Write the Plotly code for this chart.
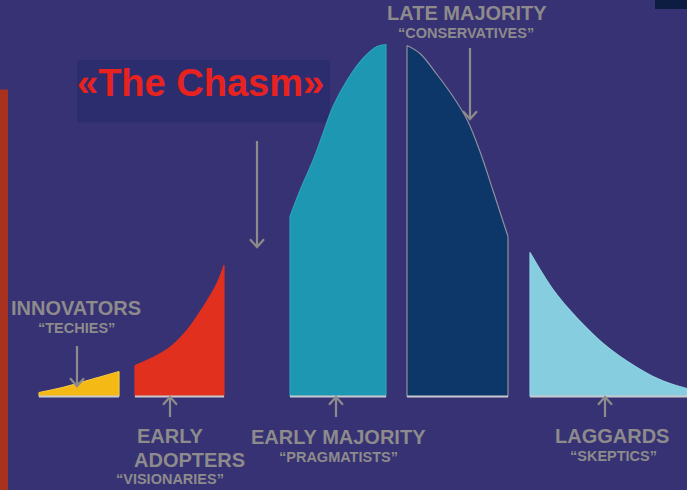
import plotly.graph_objects as go

# ---- data (x = position along the adoption timeline, h = curve height) ----
segments = ["Innovators", "Early Adopters", "Early Majority", "Late Majority", "Laggards"]
seg_colors = ["#f5b916", "#e2301f", "#1e97b3", "#0d3768", "#86cde0"]
seg_lines = ["#f5c840", "#e2301f", "#2ba2bd", "#8f8fa0", "#8fd3e4"]

innov_x = [39, 58, 77, 98, 119]
innov_h = [4, 8, 13, 19, 25]
early_ad_x = [135, 153, 170, 187, 203, 217, 224]
early_ad_h = [31, 39, 49, 66, 89, 113, 131]
early_maj_x = [290, 300, 313, 323, 333, 347, 363, 377, 386]
early_maj_h = [180, 206, 236, 263, 290, 316, 338, 350, 352]
late_maj_x = [407, 420, 437, 453, 467, 480, 493, 508]
late_maj_h = [351, 343, 322, 300, 277, 245, 206, 160]
lagg_x = [530, 540, 553, 570, 587, 603, 620, 637, 653, 670, 687]
lagg_h = [144, 127, 107, 86, 68, 53, 40, 29, 20, 13, 8]

seg_x = [innov_x, early_ad_x, early_maj_x, late_maj_x, lagg_x]
seg_h = [innov_h, early_ad_h, early_maj_h, late_maj_h, lagg_h]

BG = "#373273"
GRAY = "#8d8b8b"
FONT = "Liberation Sans, Arial, sans-serif"

fig = go.Figure()

for name, xs, hs, fc, lc in zip(segments, seg_x, seg_h, seg_colors, seg_lines):
    fig.add_trace(go.Scatter(
        x=xs, y=hs, mode="lines", fill="tozeroy", fillcolor=fc,
        line=dict(color=lc, width=1.2, shape="spline", smoothing=1.0),
        name=name, hoverinfo="name", showlegend=False))
    # straight edges of each segment
    fig.add_trace(go.Scatter(x=[xs[0], xs[0], None, xs[-1], xs[-1]],
                             y=[0, hs[0], None, 0, hs[-1]], mode="lines",
                             line=dict(color=lc, width=1.2),
                             hoverinfo="skip", showlegend=False))
    # light baseline
    fig.add_trace(go.Scatter(x=[xs[0], xs[-1]], y=[0, 0], mode="lines",
                             line=dict(color="#c9c9cf", width=2),
                             hoverinfo="skip", showlegend=False))

shapes = []
# left red bar and top-right dark block (decorations)
shapes.append(dict(type="rect", xref="x", yref="y", x0=0, x1=8, y0=-94, y1=307,
                   fillcolor="#a9321f", line=dict(width=0), layer="below"))
shapes.append(dict(type="rect", xref="x", yref="y", x0=655, x1=687, y0=387.5, y1=397,
                   fillcolor="#0d1d42", line=dict(width=0), layer="below"))
# chasm label box
shapes.append(dict(type="rect", xref="x", yref="y", x0=77, x1=330, y0=274, y1=336.5,
                   fillcolor="#2c2d6f", line=dict(width=0), layer="below"))

def arrow(x, y_tail, y_head):
    shapes.append(dict(type="line", xref="x", yref="y", x0=x, x1=x, y0=y_tail, y1=y_head,
                       line=dict(color=GRAY, width=2.2)))
    d = 6 if y_head < y_tail else -6
    shapes.append(dict(type="path", xref="x", yref="y",
                       path=f"M {x-7} {y_head+d*1.3} L {x} {y_head} L {x+7} {y_head+d*1.3}",
                       line=dict(color=GRAY, width=2.2)))

B = 396.5  # pixel baseline used for converting the label spots
arrow(77, B - 346, B - 386)
arrow(257, B - 141, B - 247)
arrow(470, B - 48, B - 119)
arrow(170, B - 417, B - 397)
arrow(336, B - 417, B - 397)
arrow(605, B - 417, B - 397)

annotations = []
def label(text, x, ypix, size):
    annotations.append(dict(text=text, x=x, y=B - ypix, xref="x", yref="y",
                            showarrow=False, xanchor="center", yanchor="middle",
                            font=dict(family=FONT, size=size, color=GRAY, weight="bold")))

label("LATE MAJORITY", 467, 13, 20)
label("“CONSERVATIVES”", 466, 33, 14.5)
label("INNOVATORS", 76, 308, 20)
label("“TECHIES”", 76, 328, 14.5)
label("EARLY", 170, 436, 20)
label("ADOPTERS", 189, 460, 20)
label("“VISIONARIES”", 170, 479, 14.5)
label("EARLY MAJORITY", 338, 437, 20)
label("“PRAGMATISTS”", 338, 457, 14.5)
label("LAGGARDS", 612, 436, 20)
label("“SKEPTICS”", 613, 456, 14.5)

annotations.append(dict(text="«The Chasm»", x=200, y=B - 83, xref="x", yref="y",
                        showarrow=False, xanchor="center", yanchor="middle",
                        font=dict(family=FONT, size=38, color="#e8231f", weight="bold")))

fig.update_layout(
    width=687, height=490,
    margin=dict(l=0, r=0, t=0, b=0),
    paper_bgcolor=BG, plot_bgcolor=BG,
    xaxis=dict(range=[0, 687], visible=False, fixedrange=True),
    yaxis=dict(range=[-93.5, 396.5], visible=False, fixedrange=True),
    shapes=shapes, annotations=annotations,
    showlegend=False,
)

fig.write_html("out.html", config={"displayModeBar": False},
               post_script="document.body.style.margin='0';document.body.style.overflow='hidden';document.body.style.background='" + BG + "';")
